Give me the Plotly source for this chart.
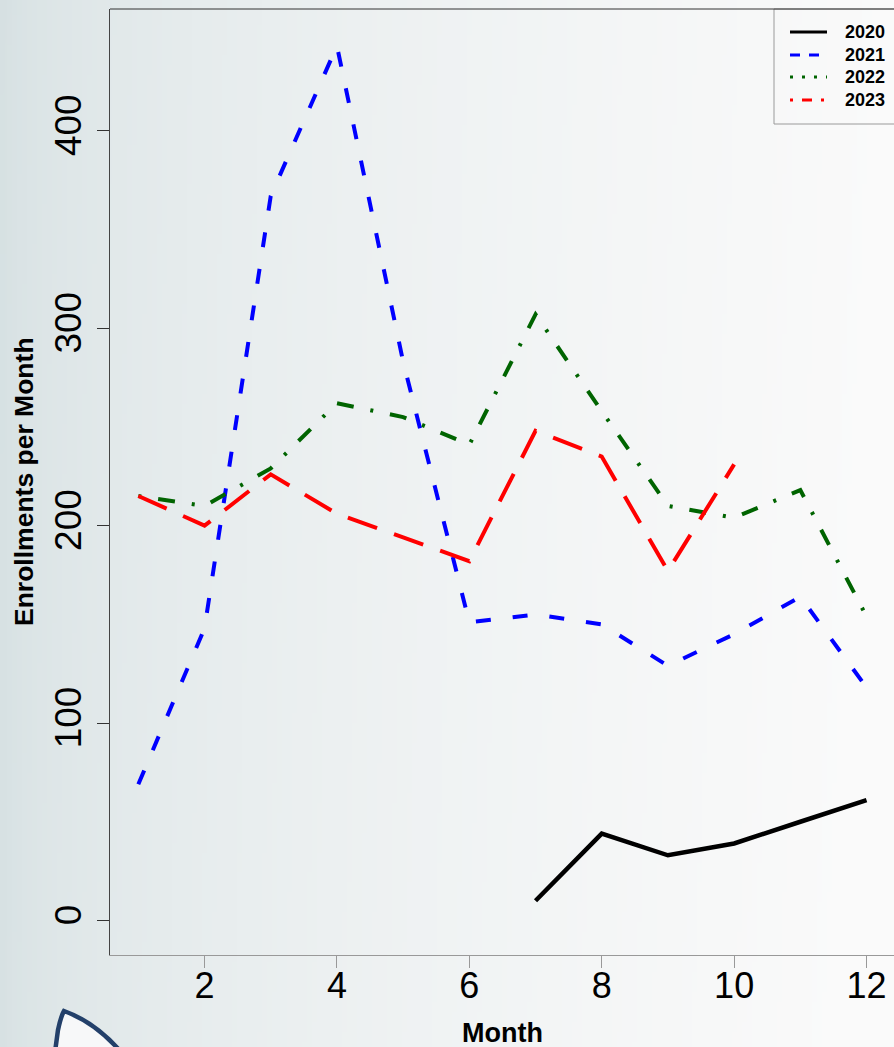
import zlib, struct, base64
import plotly.graph_objects as go

# ---------------- data ----------------
months = list(range(1, 13))
months_2020 = [7, 8, 9, 10, 11, 12]
enr_2020 = [10, 44, 33, 39, 50, 61]
enr_2021 = [69, 148, 367, 443, 283, 151, 155, 150, 129, 145, 164, 118]
enr_2022 = [215, 210, 229, 262, 255, 241, 307, 258, 210, 204, 218, 154]
months_2023 = [1, 2, 3, 4, 5, 6, 7, 8, 9, 10]
enr_2023 = [215, 200, 226, 206, 194, 182, 248, 235, 177, 231]
series_names = ["2020", "2021", "2022", "2023"]
x_ticks = [2, 4, 6, 8, 10, 12]
y_ticks = [0, 100, 200, 300, 400]

W, H = 894, 1047
L, R, T, B = 110, 0, 9, 92
PW, PH = W - L - R, H - T - B


def px2paper(px, py):
    return (px - L) / PW, (H - B - py) / PH


# ---------------- background gradient image ----------------
def png_data_uri(w, h, pixfn):
    rows = []
    for yy in range(h):
        row = bytearray(b"\x00")
        for xx in range(w):
            row.extend(pixfn(xx, yy))
        rows.append(bytes(row))
    raw = b"".join(rows)

    def chunk(t, d):
        return struct.pack(">I", len(d)) + t + d + struct.pack(">I", zlib.crc32(t + d) & 0xFFFFFFFF)

    png = (b"\x89PNG\r\n\x1a\n"
           + chunk(b"IHDR", struct.pack(">IIBBBBB", w, h, 8, 2, 0, 0, 0))
           + chunk(b"IDAT", zlib.compress(raw))
           + chunk(b"IEND", b""))
    return "data:image/png;base64," + base64.b64encode(png).decode()


dark = (212, 223, 225)
light = (250, 250, 250)
IW, IH = 179, 105


def bg_pix(xx, yy):
    X = (xx + 0.5) / IW
    Y = (yy + 0.5) / IH
    t = X ** 0.5 + 0.03 * Y
    t = max(0.0, min(1.0, t))
    return [int(round(d + (l - d) * t)) for d, l in zip(dark, light)]


bg_uri = png_data_uri(IW, IH, bg_pix)

fig = go.Figure()

# ---------------- data traces ----------------
colors = ["black", "#0000ff", "#006400", "#ff0000"]
fig.add_trace(go.Scatter(x=months_2020, y=enr_2020, mode="lines", name=series_names[0],
                         showlegend=False, line=dict(color=colors[0], width=4.5)))
fig.add_trace(go.Scatter(x=months, y=enr_2021, mode="lines", name=series_names[1],
                         showlegend=False, line=dict(color=colors[1], width=4, dash="15px,22px")))
fig.add_trace(go.Scatter(x=months, y=enr_2022, mode="lines", name=series_names[2],
                         showlegend=False,
                         line=dict(color=colors[2], width=4, dash="3px,17px,17px,17px")))
fig.add_trace(go.Scatter(x=months_2023, y=enr_2023, mode="lines", name=series_names[3],
                         showlegend=False, line=dict(color=colors[3], width=4, dash="31px,18px")))

# ---------------- legend (drawn box, samples and labels) ----------------
leg_dash = ["solid", "10px,9px", "3px,9px", "3px,9px,10px,9px"]
leg_rows = [32, 55, 77, 100]
shapes = [
    dict(type="rect", xref="paper", yref="paper",
         x0=px2paper(774, 0)[0], x1=px2paper(905, 0)[0],
         y0=px2paper(0, 124)[1], y1=px2paper(0, 9)[1],
         line=dict(color="#9a9a9a", width=1), fillcolor="rgba(0,0,0,0)"),
    dict(type="line", xref="paper", yref="paper", x0=0, x1=1.05, y0=1, y1=1,
         line=dict(color="#333333", width=1)),
]
annotations = []
for name, c, d, ry in zip(series_names, colors, leg_dash, leg_rows):
    x0, y0 = px2paper(790, ry)
    x1, _ = px2paper(827, ry)
    shapes.append(dict(type="line", xref="paper", yref="paper", x0=x0, x1=x1, y0=y0, y1=y0,
                       line=dict(color=c, width=3, dash=d)))
    annotations.append(dict(text=name, xref="paper", yref="paper",
                            x=px2paper(843, 0)[0], y=y0, xanchor="left", yanchor="middle",
                            showarrow=False,
                            font=dict(size=18, color="black", weight="bold")))

# ---------------- decorative slide shape ----------------
pts = [(55, 1052), (58, 1030), (61, 1016), (64, 1011), (95, 1022), (121, 1052)]
pp = [px2paper(*p) for p in pts]
path = ("M {0[0]},{0[1]} L {1[0]},{1[1]} Q {2[0]},{2[1]} {3[0]},{3[1]} "
        "Q {4[0]},{4[1]} {5[0]},{5[1]} Z").format(*pp)
shapes.append(dict(type="path", xref="paper", yref="paper", path=path,
                   fillcolor="#f7f8f9", line=dict(color="#23406a", width=4.5), layer="above"))

annotations += [
    dict(text="Enrollments per Month", xref="paper", yref="paper",
         x=(24 - L) / PW, y=0.5, xanchor="center", yanchor="middle",
         textangle=-90, showarrow=False,
         font=dict(size=26.5, color="black", weight="bold")),
    dict(text="Month", xref="paper", yref="paper",
         x=0.5, y=(H - B - 1033) / PH, xanchor="center", yanchor="middle",
         showarrow=False, font=dict(size=27, color="black", weight="bold")),
]

fig.update_layout(
    width=W, height=H,
    margin=dict(l=L, r=R, t=T, b=B),
    paper_bgcolor="rgba(0,0,0,0)",
    plot_bgcolor="rgba(0,0,0,0)",
    font=dict(family="Liberation Sans, Arial, sans-serif", color="black"),
    xaxis=dict(range=[0.572, 12.415], tickmode="array", tickvals=x_ticks,
               ticktext=[str(v) for v in x_ticks],
               showgrid=False, zeroline=False, showline=True, linecolor="#999999", linewidth=1,
               ticks="outside", ticklen=12, tickcolor="#999999", tickwidth=1,
               ticklabelstandoff=-13,
               tickfont=dict(size=36, color="black")),
    yaxis=dict(range=[-17.5, 461.7], tickmode="array", tickvals=y_ticks,
               ticktext=[str(v) for v in y_ticks], tickangle=-90,
               showgrid=False, zeroline=False, showline=True, linecolor="#444444", linewidth=1,
               ticks="outside", ticklen=12, tickcolor="#333333", tickwidth=1,
               ticklabelstandoff=1,
               tickfont=dict(size=37, color="black")),
    showlegend=False,
    images=[dict(source=bg_uri, xref="paper", yref="paper",
                 x=-L / PW, y=1 + T / PH, sizex=W / PW, sizey=H / PH,
                 sizing="stretch", xanchor="left", yanchor="top", layer="below")],
    shapes=shapes,
    annotations=annotations,
)

fig.write_html("out.html", config={"displayModeBar": False},
               post_script="document.body.style.margin='0';document.body.style.overflow='hidden';")
